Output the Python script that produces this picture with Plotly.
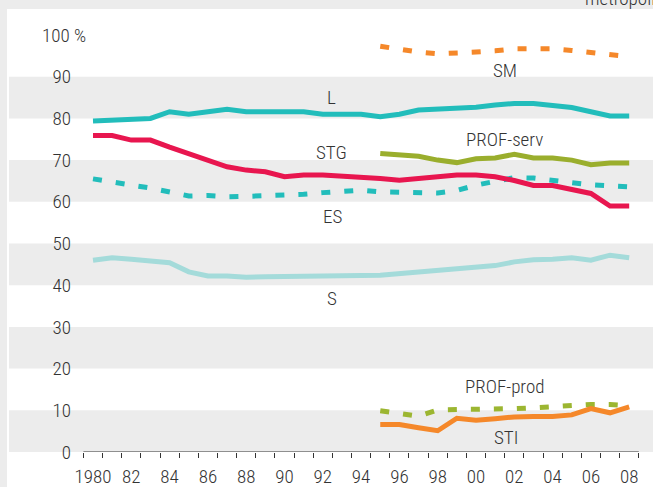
import plotly.graph_objects as go

years = list(range(1980, 2009))
years_b = list(range(1995, 2009))

L = [79.4, 79.6, 79.6, 80.0, 81.6, 81.0, 81.6, 82.2, 81.6, 81.6, 81.6, 81.6, 81.0, 81.0, 81.0,
     80.4, 81.0, 82.0, 82.2, 82.6, 82.7, 83.2, 83.6, 83.6, 83.1, 82.6, 81.6, 80.6, 80.6]
STG = [75.9, 75.9, 74.8, 74.8, 73.1, 71.6, 70.2, 68.4, 67.6, 67.2, 66.0, 66.4, 66.4, 66.2, 65.9,
       65.6, 65.2, 65.6, 65.9, 66.4, 66.4, 66.0, 65.1, 63.9, 63.9, 62.8, 62.0, 59.0, 59.0]
ES = [65.5, 64.9, 64.0, 63.3, 62.3, 61.4, 61.5, 61.2, 61.3, 61.4, 61.4, 61.8, 62.2, 62.6, 62.8,
      62.4, 62.3, 62.0, 62.1, 62.7, 64.0, 64.9, 65.8, 65.7, 65.3, 64.6, 64.1, 63.7, 63.6]
S = [46.0, 46.6, 46.2, 45.9, 45.4, 43.2, 42.2, 42.2, 41.9, 42.0, 42.0, 42.0, 42.3, 42.3, 42.3,
     42.4, 42.8, 43.2, 43.4, 43.8, 44.2, 44.7, 45.6, 46.1, 46.2, 46.6, 46.0, 47.2, 46.6]
SM = [97.3, 96.5, 95.9, 95.5, 95.6, 95.9, 96.2, 96.7, 96.7, 96.7, 96.3, 95.9, 95.4, 94.8]
PROF_serv = [71.6, 71.3, 70.9, 70.0, 69.4, 70.3, 70.5, 71.4, 70.5, 70.5, 70.0, 68.9, 69.3, 69.3]
PROF_prod = [9.9, 9.3, 8.6, 10.1, 10.1, 10.2, 10.3, 10.4, 10.6, 10.9, 11.2, 11.4, 11.4, 11.1]
STI = [6.6, 6.6, 5.8, 5.1, 8.1, 7.6, 8.0, 8.4, 8.5, 8.5, 8.9, 10.4, 9.4, 10.8]

y_ticks = [0, 10, 20, 30, 40, 50, 60, 70, 80, 90]
x_tickvals = list(range(1980, 2009, 2))
x_ticktext = ["1980", "82", "84", "86", "88", "90", "92", "94", "96", "98",
              "00", "02", "04", "06", "08"]
x_minor = [y + 0.5 for y in range(1979, 2009)]

# label name, year position, value position
labels = [("L", 1992.48, 85.1), ("STG", 1992.48, 71.9), ("ES", 1992.5, 56.4),
          ("S", 1992.48, 36.7), ("SM", 2001.5, 91.6), ("PROF-serv", 2001.5, 74.9),
          ("PROF-prod", 2001.5, 15.6), ("STI", 2001.55, 3.5)]

TEAL = "#22bdbb"
LTEAL = "#a4dbda"
RED = "#e8164f"
ORANGE = "#f5882a"
OLIVE = "#9aae2d"
GREEN = "#9cb631"
GREY = "#ececec"
TXT = "#333333"
FONT = "Roboto Condensed, Liberation Sans Narrow, DejaVu Sans Condensed, sans-serif"
FS = 19
FW = 300

W, H = 653, 487
ml, mr, mt, mb = 9, 0, 9, 35
pw, ph = W - ml - mr, H - mt - mb
px_year = 19.15
px_val = 4.17
x0 = 1980 - (93 - ml) / px_year
x1 = 1980 + (W - mr - 93) / px_year
y1 = ph / px_val

fnt = dict(size=FS, color=TXT, family=FONT, weight=FW)

fig = go.Figure()
dot = "9px,14px"
series = [
    (years, S, LTEAL, "solid"),
    (years, ES, TEAL, dot),
    (years, STG, RED, "solid"),
    (years, L, TEAL, "solid"),
    (years_b, SM, ORANGE, dot),
    (years_b, PROF_serv, OLIVE, "solid"),
    (years_b, PROF_prod, GREEN, dot),
    (years_b, STI, ORANGE, "solid"),
]
for xs, ys, col, dash in series:
    fig.add_trace(go.Scatter(x=xs, y=ys, mode="lines",
                             line=dict(color=col, width=5, dash=dash),
                             hoverinfo="skip", showlegend=False))

shapes = []
# white panel
shapes.append(dict(type="rect", xref="paper", yref="paper",
                   x0=(7 - ml) / pw, x1=1.01, y0=-(mb + 5) / ph, y1=1.0,
                   fillcolor="white", line=dict(width=0), layer="below"))
for lo in [0, 20, 40, 60, 80]:
    shapes.append(dict(type="rect", xref="paper", yref="y", x0=0, x1=1.01,
                       y0=lo, y1=lo + 10, fillcolor=GREY, line=dict(width=0),
                       layer="below"))
# x axis baseline
shapes.append(dict(type="line", xref="x", yref="y", x0=x_minor[0], x1=x_minor[-1],
                   y0=0, y1=0, line=dict(color=TXT, width=1.2), layer="above"))

annotations = []
for name, xv, yv in labels:
    annotations.append(dict(x=xv, y=yv, xref="x", yref="y", text=name,
                            showarrow=False, font=fnt,
                            xanchor="center", yanchor="middle"))
annotations.append(dict(x=(88 - ml) / pw, y=100, xref="paper", yref="y", text="100 %",
                        showarrow=False, font=fnt,
                        xanchor="right", yanchor="middle"))
annotations.append(dict(x=(583 - ml) / pw, y=1 + (mt + 1) / ph, xref="paper", yref="paper",
                        text="metropolitan areas", showarrow=False,
                        font=fnt, xanchor="left", yanchor="middle"))

fig.update_layout(
    width=W, height=H,
    margin=dict(l=ml, r=mr, t=mt, b=mb, pad=0, autoexpand=False),
    paper_bgcolor=GREY, plot_bgcolor="white",
    font=fnt,
    shapes=shapes, annotations=annotations,
    xaxis=dict(range=[x0, x1], tickmode="array", tickvals=x_tickvals, ticktext=x_ticktext,
               ticks="", showgrid=False, zeroline=False, showline=False,
               automargin=False, ticklabelstandoff=11,
               minor=dict(tickmode="array", tickvals=x_minor, ticks="outside",
                          ticklen=5, tickwidth=1, tickcolor=TXT, showgrid=False),
               tickfont=fnt),
    yaxis=dict(range=[0, y1], tickmode="array", tickvals=y_ticks, ticks="",
               showgrid=False, zeroline=False, showline=False, automargin=False,
               anchor="free", position=(71 - ml) / pw,
               tickfont=fnt),
)

fig.write_html("out.html", config={"displayModeBar": False},
               post_script="document.body.style.margin='0';document.body.style.padding='0';")
